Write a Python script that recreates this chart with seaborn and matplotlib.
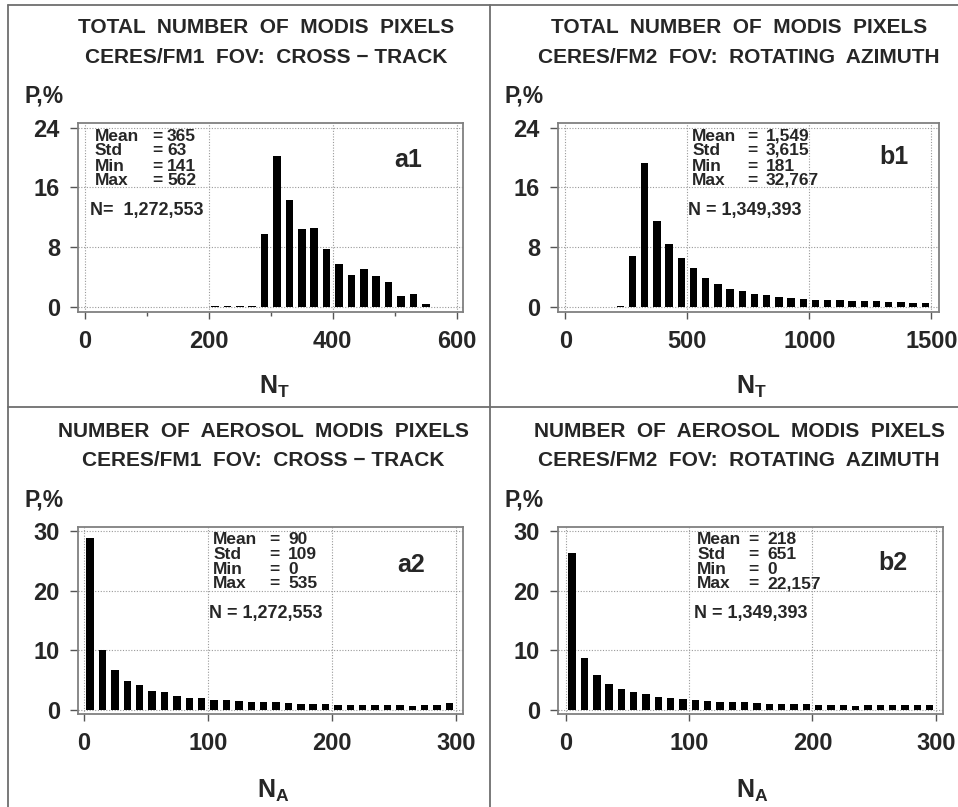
import numpy as np
import pandas as pd
import matplotlib
matplotlib.use("Agg")
import matplotlib.pyplot as plt
import seaborn as sns
from matplotlib.lines import Line2D
from matplotlib.ticker import MultipleLocator

# ---------------- data ----------------
a1_centers = [210, 230, 250, 270, 290, 310, 330, 350, 370, 390, 410, 430, 450, 470, 490, 510, 530, 550]
a1_values = [0.05, 0.05, 0.08, 0.1, 9.8, 20.2, 14.3, 10.4, 10.5, 7.8, 5.8, 4.3, 5.1, 4.1, 3.3, 1.5, 1.7, 0.4]

b1_centers = [225, 275, 325, 375, 425, 475, 525, 575, 625, 675, 725, 775, 825, 875, 925, 975,
              1025, 1075, 1125, 1175, 1225, 1275, 1325, 1375, 1425, 1475]
b1_values = [0.1, 6.8, 19.3, 11.5, 8.4, 6.6, 5.2, 3.9, 3.0, 2.4, 2.1, 1.75, 1.6, 1.3, 1.2, 1.07,
             0.94, 0.85, 0.85, 0.72, 0.72, 0.72, 0.67, 0.63, 0.54, 0.45]

a2_centers = [5, 15, 25, 35, 45, 55, 65, 75, 85, 95, 105, 115, 125, 135, 145, 155, 165, 175, 185, 195,
              205, 215, 225, 235, 245, 255, 265, 275, 285, 295]
a2_values = [28.8, 10.0, 6.6, 4.9, 4.1, 3.2, 2.9, 2.35, 2.0, 1.9, 1.7, 1.57, 1.46, 1.3, 1.3, 1.23, 1.12,
             1.0, 1.0, 1.0, 0.84, 0.84, 0.72, 0.72, 0.72, 0.72, 0.6, 0.72, 0.72, 1.12]

b2_centers = a2_centers
b2_values = [26.3, 8.7, 5.8, 4.4, 3.5, 3.0, 2.6, 2.2, 1.96, 1.74, 1.63, 1.52, 1.29, 1.23, 1.23, 1.18, 1.0,
             1.0, 0.9, 0.9, 0.84, 0.84, 0.84, 0.67, 0.72, 0.72, 0.72, 0.72, 0.72, 0.72]

stat_names = ["Mean", "Std", "Min", "Max"]
a1_stats = ["365", "63", "141", "562"]
b1_stats = ["1,549", "3,615", "181", "32,767"]
a2_stats = ["90", "109", "0", "535"]
b2_stats = ["218", "651", "0", "22,157"]

a1_n = "N=  1,272,553"
b1_n = "N = 1,349,393"
a2_n = "N = 1,272,553"
b2_n = "N = 1,349,393"

title_total = "TOTAL  NUMBER  OF  MODIS  PIXELS"
title_aer = "NUMBER  OF  AEROSOL  MODIS  PIXELS"
title_fm1 = "CERES/FM1  FOV:  CROSS \u2212 TRACK"
title_fm2 = "CERES/FM2  FOV:  ROTATING  AZIMUTH"

top_xticks_a = [0, 200, 400, 600]
top_xticks_b = [0, 500, 1000, 1500]
bot_xticks = [0, 100, 200, 300]
top_yticks = [0, 8, 16, 24]
bot_yticks = [0, 10, 20, 30]

# ---------------- style ----------------
sns.set_style("white")
plt.rcParams["font.family"] = ["Liberation Sans", "DejaVu Sans"]
plt.rcParams["mathtext.fontset"] = "custom"
plt.rcParams["mathtext.rm"] = "Liberation Sans:bold"
plt.rcParams["mathtext.bf"] = "Liberation Sans:bold"
plt.rcParams["mathtext.it"] = "Liberation Sans:bold"
plt.rcParams["mathtext.default"] = "rm"

NARROW = ["Liberation Sans Narrow", "Liberation Sans", "DejaVu Sans"]

W, H = 958, 807
fig = plt.figure(figsize=(W / 100, H / 100), dpi=100)
fig.patch.set_facecolor("white")


def fx(x):
    return x / W


def fy(y):
    return 1 - y / H


panels = [
    dict(centers=a1_centers, values=a1_values, bw=20, box=(78, 123, 463, 312),
         xlim=(-11, 610), xticks=top_xticks_a, minor=100, ylim=(-0.7, 24.65), yticks=top_yticks,
         t1=title_total, t2=title_fm1, tx=266, ty=(33, 63), stats=a1_stats, n=a1_n,
         sx=(0.043, 0.192, 0.231), nx=0.032, lab="a1", labpos=(0.858, 0.803),
         xl=r"$\mathrm{N_T}$", xlpos=(274, 394), plpos=(25, 103)),
    dict(centers=b1_centers, values=b1_values, bw=50, box=(558, 123, 939, 312),
         xlim=(-30, 1531), xticks=top_xticks_b, minor=None, ylim=(-0.7, 24.65), yticks=top_yticks,
         t1=title_total, t2=title_fm2, tx=739, ty=(33, 63), stats=b1_stats, n=b1_n,
         sx=(0.352, 0.497, 0.545), nx=0.34, lab="b1", labpos=(0.882, 0.82),
         xl=r"$\mathrm{N_T}$", xlpos=(751, 394), plpos=(505, 103)),
    dict(centers=a2_centers, values=a2_values, bw=10, box=(78, 527, 463, 714),
         xlim=(-4.8, 305.9), xticks=bot_xticks, minor=None, ylim=(-0.73, 30.73), yticks=bot_yticks,
         t1=title_aer, t2=title_fm1, tx=263, ty=(437, 466), stats=a2_stats, n=a2_n,
         sx=(0.351, 0.498, 0.546), nx=0.34, lab="a2", labpos=(0.866, 0.796),
         xl=r"$\mathrm{N_A}$", xlpos=(273, 798), plpos=(25, 506)),
    dict(centers=b2_centers, values=b2_values, bw=10, box=(558, 527, 943, 714),
         xlim=(-6.5, 305.9), xticks=bot_xticks, minor=None, ylim=(-0.73, 30.73), yticks=bot_yticks,
         t1=title_aer, t2=title_fm2, tx=739, ty=(437, 466), stats=b2_stats, n=b2_n,
         sx=(0.362, 0.494, 0.544), nx=0.352, lab="b2", labpos=(0.87, 0.805),
         xl=r"$\mathrm{N_A}$", xlpos=(752, 798), plpos=(505, 506)),
]

# baselines (axes fraction) of the second line of each stacked pair
pair_base = [0.831, 0.672]

for p in panels:
    l, t, r, b = p["box"]
    ax = fig.add_axes([fx(l), fy(b), (r - l) / W, (b - t) / H])
    df = pd.DataFrame({"x": np.array(p["centers"], dtype=float),
                       "w": np.array(p["values"], dtype=float)})
    bw = p["bw"]
    rng = (df["x"].min() - bw / 2, df["x"].max() + bw / 2)
    sns.histplot(data=df, x="x", weights="w", binwidth=bw, binrange=rng, shrink=0.6,
                 color="black", alpha=1, linewidth=0, stat="count", ax=ax, zorder=3)
    ax.set_xlim(*p["xlim"])
    ax.set_ylim(*p["ylim"])
    ax.set_xticks(p["xticks"])
    ax.set_yticks(p["yticks"])
    if p["minor"]:
        ax.xaxis.set_minor_locator(MultipleLocator(p["minor"]))
    ax.set_xlabel("")
    ax.set_ylabel("")
    ax.grid(True, which="major", color="#9a9a9a", linestyle=(0, (1, 1.5)), linewidth=0.8, zorder=0)
    ax.set_axisbelow(True)
    for s in ax.spines.values():
        s.set_color("#808080")
        s.set_linewidth(1.3)
    ax.tick_params(axis="x", which="major", direction="out", length=5, width=1.0,
                   color="#555555", pad=8, labelsize=17, bottom=True)
    ax.tick_params(axis="x", which="minor", direction="out", length=3, width=1.0,
                   color="#555555", bottom=True)
    ax.tick_params(axis="y", which="major", direction="out", length=6, width=1.0,
                   color="#555555", pad=7, labelsize=17, left=True)
    for lbl in ax.get_xticklabels() + ax.get_yticklabels():
        lbl.set_fontweight("bold")

    # stats text: two stacked pairs, three columns each
    kw = dict(transform=ax.transAxes, va="baseline", ha="left", fontsize=12.5,
              fontweight="bold", family=NARROW, zorder=5, linespacing=0.93)
    for k, yy in enumerate(pair_base):
        i0, i1 = 2 * k, 2 * k + 1
        ax.text(p["sx"][0], yy, stat_names[i0] + "\n" + stat_names[i1], **kw)
        ax.text(p["sx"][1], yy, "=\n=", **kw)
        ax.text(p["sx"][2], yy, p["stats"][i0] + "\n" + p["stats"][i1], **kw)
    ax.text(p["nx"], 0.538, p["n"], transform=ax.transAxes, va="center", ha="left",
            fontsize=13, fontweight="bold", zorder=5)
    ax.text(p["labpos"][0], p["labpos"][1], p["lab"], transform=ax.transAxes,
            va="center", ha="center", fontsize=18, fontweight="bold", zorder=5)

    # titles and labels
    fig.text(fx(p["tx"]), fy(p["ty"][0]), p["t1"], ha="center", va="baseline",
             fontsize=15, fontweight="bold")
    fig.text(fx(p["tx"]), fy(p["ty"][1]), p["t2"], ha="center", va="baseline",
             fontsize=15, fontweight="bold")
    fig.text(fx(p["xlpos"][0]), fy(p["xlpos"][1]), p["xl"], ha="center", va="baseline",
             fontsize=18)
    fig.text(fx(p["plpos"][0]), fy(p["plpos"][1]), "P,%", ha="left", va="baseline",
             fontsize=16.5, fontweight="bold")

# panel borders
border = dict(transform=fig.transFigure, color="#6e6e6e", linewidth=1.3)
fig.add_artist(Line2D([fx(8), fx(8)], [fy(5), fy(807)], **border))
fig.add_artist(Line2D([fx(8), fx(958)], [fy(5), fy(5)], **border))
fig.add_artist(Line2D([fx(490), fx(490)], [fy(5), fy(807)], **border))
fig.add_artist(Line2D([fx(8), fx(958)], [fy(407), fy(407)], **border))

fig.savefig("out.png", dpi=100, facecolor="white")
